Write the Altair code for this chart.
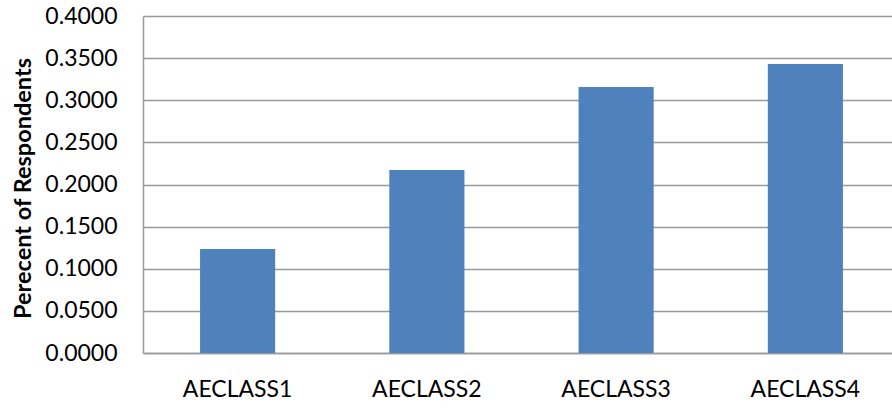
import altair as alt
import pandas as pd

categories = ["AECLASS1", "AECLASS2", "AECLASS3", "AECLASS4"]
values = [0.1234, 0.2172, 0.3157, 0.3430]
y_ticks = [0.0, 0.05, 0.10, 0.15, 0.20, 0.25, 0.30, 0.35, 0.40]

df = pd.DataFrame({"cat": categories, "val": values})

chart = alt.Chart(df).mark_bar(color="#4F81BD", width=alt.RelativeBandSize(0.397)).encode(
    x=alt.X("cat:N", sort=categories,
            scale=alt.Scale(paddingInner=0, paddingOuter=0, range=[0, 757]),
            axis=alt.Axis(title=None, labelAngle=0, ticks=False, domainColor="#999999",
                          domainWidth=1.5, labelFont="Lato", labelFontSize=23,
                          labelColor="#000000", labelPadding=25, grid=False)),
    y=alt.Y("val:Q", scale=alt.Scale(domain=[0, 0.4], nice=False),
            axis=alt.Axis(title="Perecent of Respondents", values=y_ticks, format=".4f",
                          ticks=False, domainColor="#999999", domainWidth=1.5,
                          gridColor="#999999", gridWidth=1.5,
                          labelFont="Lato", labelFontSize=23, labelColor="#000000",
                          labelPadding=26, titleFont="Lato", titleFontSize=23.5,
                          titleFontWeight="bold", titleColor="#000000", titleAngle=-90,
                          titleX=-120, titleY=172, titleAlign="center",
                          titleBaseline="middle")),
).properties(
    width=749, height=337,
    autosize=alt.AutoSizeParams(type="none"),
    padding={"left": 143, "top": 16, "right": 0, "bottom": 55},
).configure_view(stroke=None)

chart.save("out.html", embed_options={"renderer": "svg", "actions": False})
